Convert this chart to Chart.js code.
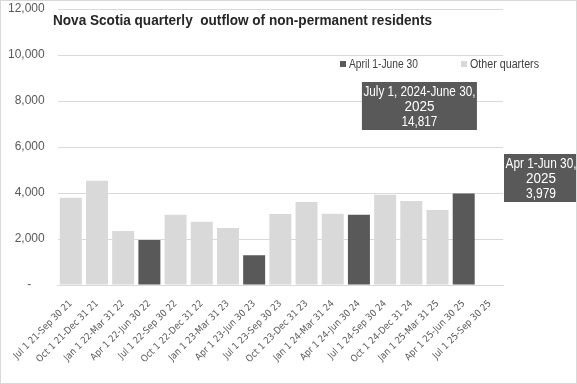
<!DOCTYPE html>
<html lang="en">
<head>
    <meta charset="UTF-8">
    <title>Nova Scotia quarterly outflow of non-permanent residents</title>
    <script src="https://cdn.jsdelivr.net/npm/chart.js"></script>
    <style>
        body {
            margin: 0;
            background: #fff;
        }
        #wrap {
            width: 577px;
            height: 384px;
            box-sizing: border-box;
            border: 1px solid #d9d9d9;
        }
    </style>
</head>
<body>
    <div id="wrap"><canvas id="myChart" width="575" height="382"></canvas></div>

    <script>
        const quarters = ['Jul 1 21-Sep 30 21', 'Oct 1 21-Dec 31 21', 'Jan 1 22-Mar 31 22', 'Apr 1 22-Jun 30 22',
            'Jul 1 22-Sep 30 22', 'Oct 1 22-Dec 31 22', 'Jan 1 23-Mar 31 23', 'Apr 1 23-Jun 30 23',
            'Jul 1 23-Sep 30 23', 'Oct 1 23-Dec 31 23', 'Jan 1 24-Mar 31 24', 'Apr 1 24-Jun 30 24',
            'Jul 1 24-Sep 30 24', 'Oct 1 24-Dec 31 24', 'Jan 1 25-Mar 31 25', 'Apr 1 25-Jun 30 25',
            'Jul 1 25-Sep 30 25'];
        const outflow = [3790, 4530, 2350, 1960, 3050, 2750, 2480, 1300, 3090, 3610, 3100, 3060,
            3926, 3652, 3260, 3979, null];
        const seriesNames = ['April 1-June 30', 'Other quarters'];
        const yearNote = ['July 1, 2024-June 30,', '2025', '14,817'];
        const lastNote = ['Apr 1-Jun 30,', '2025', '3,979'];

        const DARK = '#595959';
        const LIGHT = '#d9d9d9';
        const FONT = "'DejaVu Sans Condensed', 'Liberation Sans', Arial, sans-serif";
        const FONT2 = "'Liberation Sans', Arial, sans-serif";

        const barColors = quarters.map(q => q.startsWith('Apr') ? DARK : LIGHT);

        // draw text squeezed sideways to a given width (Excel's font is narrower)
        function fitText(ctx, text, x, y, width) {
            const w = ctx.measureText(text).width;
            const k = Math.min(1, width / w);
            ctx.save();
            ctx.translate(x, y);
            ctx.scale(k, 1);
            ctx.fillText(text, 0, 0);
            ctx.restore();
        }

        function noteBox(ctx, lines, widths, cx, top, w) {
            const lh = 15;
            ctx.fillStyle = DARK;
            ctx.fillRect(cx - w / 2, top, w, 48);
            ctx.fillStyle = '#fff';
            ctx.font = '14px ' + FONT2;
            ctx.textAlign = 'center';
            ctx.textBaseline = 'top';
            lines.forEach((t, i) => fitText(ctx, t, cx, top + 3 + i * lh, widths[i]));
        }

        const extras = {
            id: 'extras',
            afterDraw(chart) {
                const ctx = chart.ctx;
                const area = chart.chartArea;
                const x = chart.scales.x;
                ctx.save();

                // title
                ctx.fillStyle = '#262626';
                ctx.font = 'bold 15px ' + FONT2;
                ctx.textAlign = 'left';
                ctx.textBaseline = 'alphabetic';
                fitText(ctx, 'Nova Scotia quarterly  outflow of non-permanent residents', 52, 24, 379);

                // legend
                ctx.font = '12px ' + FONT2;
                ctx.textBaseline = 'middle';
                [[DARK, seriesNames[0], 339], [LIGHT, seriesNames[1], 460]].forEach(([c, t, lx]) => {
                    ctx.fillStyle = c;
                    ctx.fillRect(lx, 60, 6, 6);
                    ctx.fillStyle = '#404040';
                    fitText(ctx, t, lx + 9, 63.5, 69);
                });

                // notes
                const c1 = (x.getPixelForValue(12) + x.getPixelForValue(15)) / 2 - 5;
                noteBox(ctx, yearNote, [112, 30, 36], c1, 81, 115);
                noteBox(ctx, lastNote, [71, 30, 30], area.right + 38, 153, 74);
                ctx.restore();
            }
        };

        const ctx = document.getElementById('myChart').getContext('2d');
        new Chart(ctx, {
            type: 'bar',
            data: {
                labels: quarters,
                datasets: [{
                    label: 'Outflow',
                    data: outflow,
                    backgroundColor: barColors,
                    categoryPercentage: 0.84,
                    barPercentage: 1
                }]
            },
            options: {
                responsive: false,
                animation: false,
                layout: { padding: { left: -6, top: 8, right: 73, bottom: 13 } },
                plugins: {
                    legend: { display: false },
                    tooltip: { enabled: false }
                },
                scales: {
                    x: {
                        grid: { display: false },
                        border: { color: LIGHT },
                        afterFit: s => { s.paddingLeft = 0; },
                        ticks: {
                            color: '#595959',
                            font: { family: FONT, size: 9.5 },
                            minRotation: 45,
                            maxRotation: 45,
                            autoSkip: false,
                            padding: 5
                        }
                    },
                    y: {
                        min: 0,
                        max: 12000,
                        grid: { color: LIGHT, drawTicks: false },
                        border: { display: false },
                        afterFit: s => { s.paddingTop = 0; },
                        ticks: {
                            stepSize: 2000,
                            color: '#595959',
                            font: { family: FONT2, size: 12 },
                            padding: 13,
                            callback: v => v === 0 ? '-    ' : v.toLocaleString('en-US')
                        }
                    }
                }
            },
            plugins: [extras]
        });
    </script>
</body>
</html>
